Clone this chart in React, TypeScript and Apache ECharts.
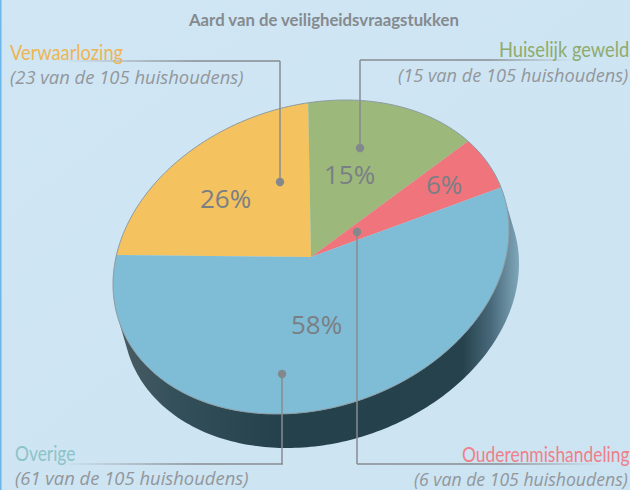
import React, { useEffect, useRef } from "react";
import * as echarts from "echarts";

const categories = ["Verwaarlozing", "Huiselijk geweld", "Ouderenmishandeling", "Overige"];
const sliceShares = [21.8, 14.8, 5.9, 57.5];
const percentLabels = ["26%", "15%", "6%", "58%"];
const counts = ["(23 van de 105 huishoudens)", "(15 van de 105 huishoudens)", "(6 van de 105 huishoudens)", "(61 van de 105 huishoudens)"];
const sliceColors = ["#f4c25e", "#9cb87b", "#ef747b", "#7fbcd5"];
const nameColors = ["#edb553", "#8eab6e", "#ef7f89", "#8cc3c8"];

const FONT = "Lato";
const CX = 311, CY = 257, W = 198, H = 157;
const DELTA = (-10 * Math.PI) / 180;
const DX = 10, DY = 34;
const START = (190.7 * Math.PI) / 180;

const pt = (t: number, ox = 0, oy = 0): number[] => [
  CX + ox + W * Math.cos(t),
  CY + oy + H * Math.sin(t + DELTA),
];
const arc = (a: number, b: number, ox = 0, oy = 0) => {
  const n = Math.max(2, Math.ceil(Math.abs(b - a) / 0.02));
  const out: number[][] = [];
  for (let i = 0; i <= n; i++) out.push(pt(a + ((b - a) * i) / n, ox, oy));
  return out;
};

const renderItem = (params: any, api: any) => {
  const i = params.dataIndex;
  let before = 0;
  for (let k = 0; k < i; k++) before += sliceShares[k];
  const a = START + (before / 100) * Math.PI * 2;
  const b = a + (api.value(0) / 100) * Math.PI * 2;
  const edge = arc(a, b);
  const children: any[] = [];
  if (i === 0) {
    const s = (-13 * Math.PI) / 180;
    const e = (167 * Math.PI) / 180;
    children.push({
      type: "polygon",
      shape: { points: [...arc(s, e), ...arc(e, s, DX, DY)] },
      style: {
        fill: new echarts.graphic.LinearGradient(0, 0, 1, 0, [
          { offset: 0, color: "#4a5c63" },
          { offset: 0.14, color: "#34505b" },
          { offset: 0.4, color: "#25414c" },
          { offset: 0.86, color: "#26424d" },
          { offset: 0.93, color: "#48697a" },
          { offset: 1, color: "#7fa7b9" },
        ]),
      },
    });
  }
  children.push({
    type: "polygon",
    shape: { points: [[CX, CY], ...edge] },
    style: { fill: sliceColors[i] },
  });
  children.push({
    type: "polyline",
    shape: { points: edge },
    style: { fill: null, stroke: "#8d9ba3", lineWidth: 1 },
  });
  return { type: "group", children };
};

const LEADER = "#878c90";
const Z = 10;
const hFade = (x: number, y: number, width: number, fadeLeft: boolean) => ({
  type: "rect",
  silent: true,
  z: Z,
  shape: { x, y: y - 0.75, width, height: 1.5 },
  style: {
    fill: new echarts.graphic.LinearGradient(0, 0, 1, 0, [
      { offset: 0, color: fadeLeft ? "rgba(135,140,144,0)" : LEADER },
      { offset: 0.6, color: LEADER },
      { offset: 1, color: fadeLeft ? LEADER : "rgba(135,140,144,0)" },
    ]),
  },
});
const vLine = (x: number, y1: number, y2: number) => ({
  type: "line",
  silent: true,
  z: Z,
  shape: { x1: x, y1, x2: x, y2 },
  style: { stroke: LEADER, lineWidth: 1.5 },
});
const dot = (x: number, y: number) => ({
  type: "circle",
  silent: true,
  z: Z,
  shape: { cx: x, cy: y, r: 4.2 },
  style: { fill: "#83888d" },
});
const txt = (text: string, x: number, y: number, size: number, color: string, extra: any = {}, scaleX = 1, family = FONT) => ({
  type: "text",
  silent: true,
  z: Z,
  x,
  y,
  scaleX,
  style: {
    text,
    fill: color,
    fontFamily: family,
    fontSize: size,
    textAlign: "left",
    textVerticalAlign: "middle",
    ...extra,
  },
});
const note = (text: string, x: number, y: number, scaleX = 1.024) =>
  txt(text, x, y, 18, "#92979c", { fontStyle: "italic" }, scaleX, "Open Sans");
const pct = (text: string, x: number, y: number) =>
  txt(text, x, y, 26, "#7a7f86", {}, 1, "Open Sans");

const App = () => {
  const ref = useRef<HTMLDivElement>(null);
  useEffect(() => {
    document.body.style.margin = "0";
    const chart = echarts.init(ref.current!, null, { renderer: "svg" });
    chart.setOption({
      animation: false,
      backgroundColor: new echarts.graphic.LinearGradient(0, 0, 1, 1, [
        { offset: 0, color: "#d0e6f4" },
        { offset: 1, color: "#cce3f1" },
      ]),
      series: [
        {
          type: "custom",
          coordinateSystem: "none",
          silent: true,
          clip: false,
          renderItem,
          data: sliceShares.map((v) => [v]),
        },
      ],
      graphic: {
        elements: [
          { type: "rect", silent: true, shape: { x: 0, y: 0, width: 1.5, height: 490 }, style: { fill: "#6cb6ea" } },
          txt("Aard van de veiligheidsvraagstukken", 189, 19, 17, "#858a8f", { fontWeight: 700 }, 0.985),

          hFade(60, 61, 220, true),
          vLine(280, 61, 182),
          dot(280, 182),
          hFade(360, 60, 215, false),
          vLine(360, 60, 148),
          dot(360, 148),
          hFade(357, 464, 245, false),
          vLine(357, 232, 464),
          dot(357, 232),
          hFade(60, 464, 223, true),
          vLine(282, 374, 464),
          dot(282, 374),

          txt(categories[0], 10, 52, 21, nameColors[0], {}, 0.87),
          note(counts[0], 10, 77),
          txt(categories[1], 499, 49, 21, nameColors[1], {}, 0.87),
          note(counts[1], 398, 75, 1.01),
          txt(categories[2], 462, 454, 21, nameColors[2], {}, 0.83),
          note(counts[2], 414, 479, 0.98),
          txt(categories[3], 15, 453, 21, nameColors[3], {}, 0.83),
          note(counts[3], 15, 478),

          pct(percentLabels[0], 200, 198),
          pct(percentLabels[1], 324, 174),
          pct(percentLabels[2], 426, 184),
          pct(percentLabels[3], 291, 324),
        ],
      },
    });
    return () => chart.dispose();
  }, []);
  return <div ref={ref} style={{ width: 630, height: 490 }} />;
};

export default App;
